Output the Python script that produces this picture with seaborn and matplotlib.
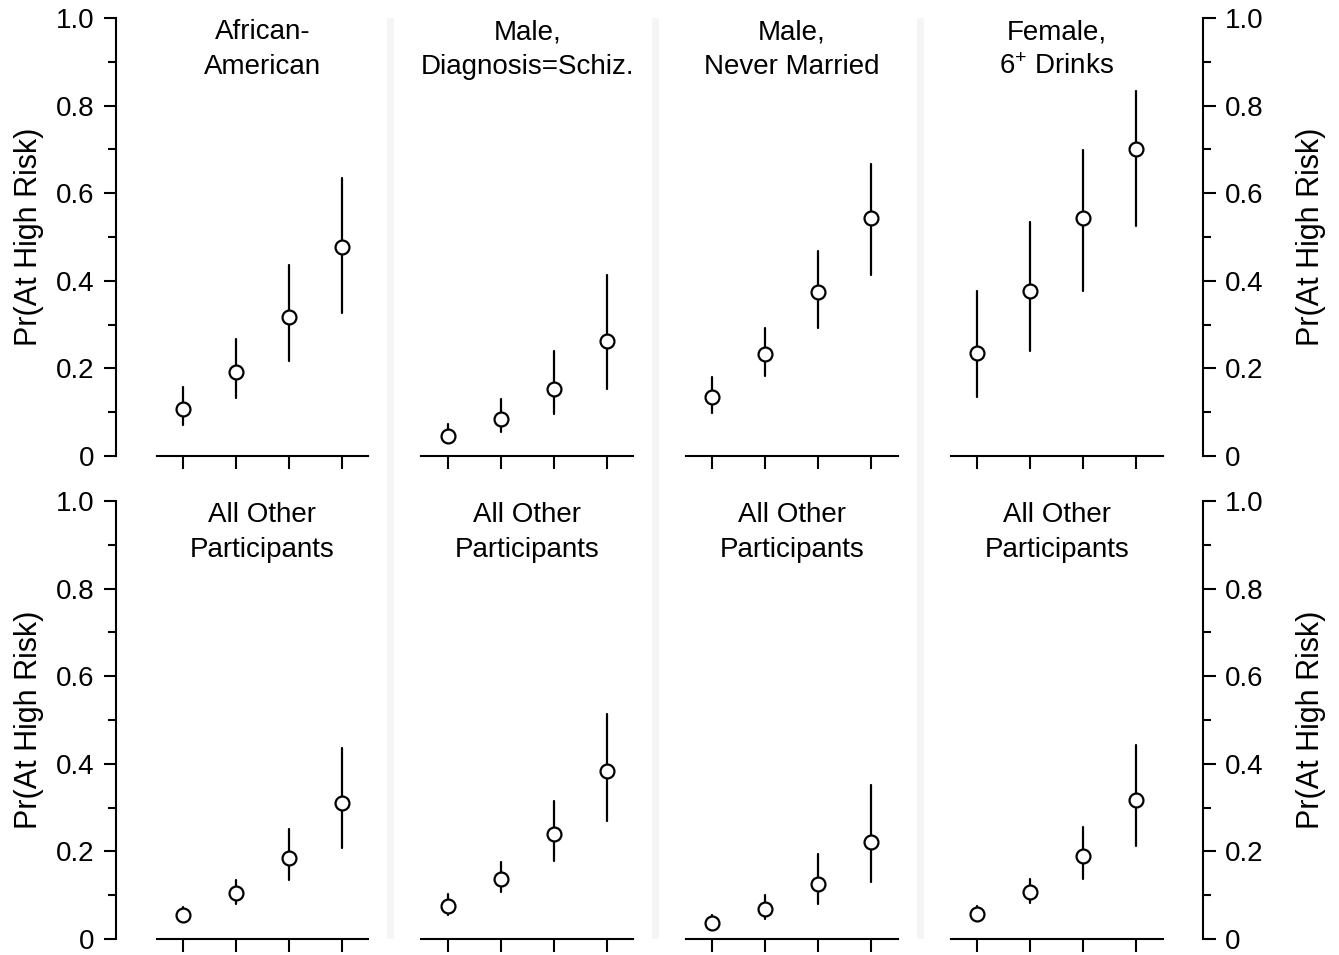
"""Predicted probability of being at high risk, by subgroup and risk level."""
import matplotlib
matplotlib.use("Agg")
import matplotlib.pyplot as plt
from matplotlib.patches import Rectangle
from matplotlib.ticker import FuncFormatter, MultipleLocator
import numpy as np
import pandas as pd
import seaborn as sns

sns.set_theme(style="white")
plt.rcParams.update({
    "font.family": ["Liberation Sans", "DejaVu Sans"],
    "mathtext.default": "regular",
    "font.size": 20,
    "text.color": "black",
    "axes.labelcolor": "black",
    "xtick.color": "black",
    "ytick.color": "black",
})

# risk levels along the x axis (no tick labels in the original)
levels = ["1", "2", "3", "4"]

top_titles = ["African-\nAmerican", "Male,\nDiagnosis=Schiz.", "Male,\nNever Married",
              "Female,\n6$^{+}$ Drinks"]
bottom_titles = ["All Other\nParticipants"] * 4

# estimates and interval bounds, one list per panel
top_est = [[0.107, 0.192, 0.317, 0.477],
           [0.046, 0.084, 0.153, 0.263],
           [0.135, 0.233, 0.375, 0.543],
           [0.235, 0.377, 0.543, 0.701]]
top_lo = [[0.071, 0.132, 0.217, 0.326],
          [0.032, 0.055, 0.096, 0.153],
          [0.098, 0.183, 0.292, 0.413],
          [0.135, 0.240, 0.377, 0.525]]
top_hi = [[0.158, 0.267, 0.436, 0.634],
          [0.073, 0.130, 0.240, 0.413],
          [0.181, 0.292, 0.468, 0.667],
          [0.377, 0.534, 0.699, 0.833]]

bottom_est = [[0.055, 0.105, 0.185, 0.311],
              [0.075, 0.137, 0.240, 0.384],
              [0.037, 0.068, 0.126, 0.222],
              [0.057, 0.107, 0.190, 0.317]]
bottom_lo = [[0.042, 0.080, 0.135, 0.208],
             [0.055, 0.107, 0.178, 0.269],
             [0.025, 0.046, 0.080, 0.130],
             [0.042, 0.082, 0.137, 0.212]]
bottom_hi = [[0.073, 0.135, 0.251, 0.436],
             [0.103, 0.176, 0.315, 0.514],
             [0.055, 0.100, 0.194, 0.352],
             [0.075, 0.137, 0.256, 0.443]]

YLABEL = "Pr(At High Risk)"
OFFSET = 29  # points the outer y spines sit away from the data


def panel_frame(est, lo, hi):
    # median of (lo, est, hi) is est; 100% interval spans lo..hi
    rows = []
    for lev, e, l, h in zip(levels, est, lo, hi):
        for v in (l, e, h):
            rows.append({"level": lev, "p": v})
    return pd.DataFrame(rows)


def draw_panel(ax, est, lo, hi, title):
    sns.pointplot(
        data=panel_frame(est, lo, hi), x="level", y="p", ax=ax,
        estimator="median", errorbar=("pi", 100), color="black",
        linestyle="none", marker="o", markersize=10,
        markerfacecolor="white", markeredgecolor="black", markeredgewidth=1.6,
        err_kws={"linewidth": 1.6, "color": "black"},
    )
    for ln in ax.lines:
        if ln.get_marker() not in (None, "None", "", " "):
            ln.set_zorder(5)
    ax.set_xlim(-0.5, len(levels) - 0.5)
    ax.set_ylim(0, 1)
    ax.set_xlabel("")
    ax.set_ylabel("")
    ax.set_xticks(range(len(levels)))
    ax.set_xticklabels([])
    ax.tick_params(axis="x", bottom=True, direction="out", length=9, width=1.5, color="black")
    ax.text(0.5, 0.997, title, transform=ax.transAxes, ha="center", va="top",
            fontsize=20, linespacing=1.45)
    for s in ax.spines.values():
        s.set_visible(False)
    ax.spines["bottom"].set_visible(True)
    ax.spines["bottom"].set_color("black")
    ax.spines["bottom"].set_linewidth(1.5)
    ax.set_yticks([])


def style_yaxis(ax, side):
    sp = ax.spines[side]
    sp.set_visible(True)
    sp.set_position(("outward", OFFSET))
    sp.set_color("black")
    sp.set_linewidth(1.5)
    ax.yaxis.set_major_locator(MultipleLocator(0.2))
    ax.yaxis.set_minor_locator(MultipleLocator(0.1))
    ax.yaxis.set_major_formatter(FuncFormatter(lambda v, _: "0" if abs(v) < 1e-9 else f"{v:.1f}"))
    if side == "right":
        ax.yaxis.tick_right()
        ax.yaxis.set_label_position("right")
    ax.tick_params(axis="y", which="major", left=(side == "left"), right=(side == "right"),
                   length=9, width=1.5, color="black", pad=7, labelsize=20)
    ax.tick_params(axis="y", which="minor", left=(side == "left"), right=(side == "right"),
                   length=6, width=1.5, color="black")
    ax.set_ylabel(YLABEL, fontsize=22, labelpad=(8 if side == "left" else 23))


fig, axes = plt.subplots(2, 4, figsize=(13.39, 9.55), dpi=100)
fig.subplots_adjust(left=0.1169, right=0.8682, top=0.9812, bottom=0.0168,
                    wspace=0.25, hspace=0.1027)

for c in range(4):
    draw_panel(axes[0, c], top_est[c], top_lo[c], top_hi[c], top_titles[c])
    draw_panel(axes[1, c], bottom_est[c], bottom_lo[c], bottom_hi[c], bottom_titles[c])

for r in range(2):
    style_yaxis(axes[r, 0], "left")
    style_yaxis(axes[r, 3], "right")

# faint vertical bands between the panel columns
W = fig.get_figwidth() * fig.dpi
for c in range(3):
    left_box = axes[0, c].get_position()
    right_box = axes[0, c + 1].get_position()
    mid = (left_box.x1 + right_box.x0) / 2 - 4 / W
    band = Rectangle((mid - 3.5 / W, axes[1, c].get_position().y0), 7 / W,
                     left_box.y1 - axes[1, c].get_position().y0,
                     transform=fig.transFigure, color="#f5f5f5", zorder=0, lw=0)
    fig.add_artist(band)

fig.savefig("out.png", dpi=100)
plt.close(fig)
